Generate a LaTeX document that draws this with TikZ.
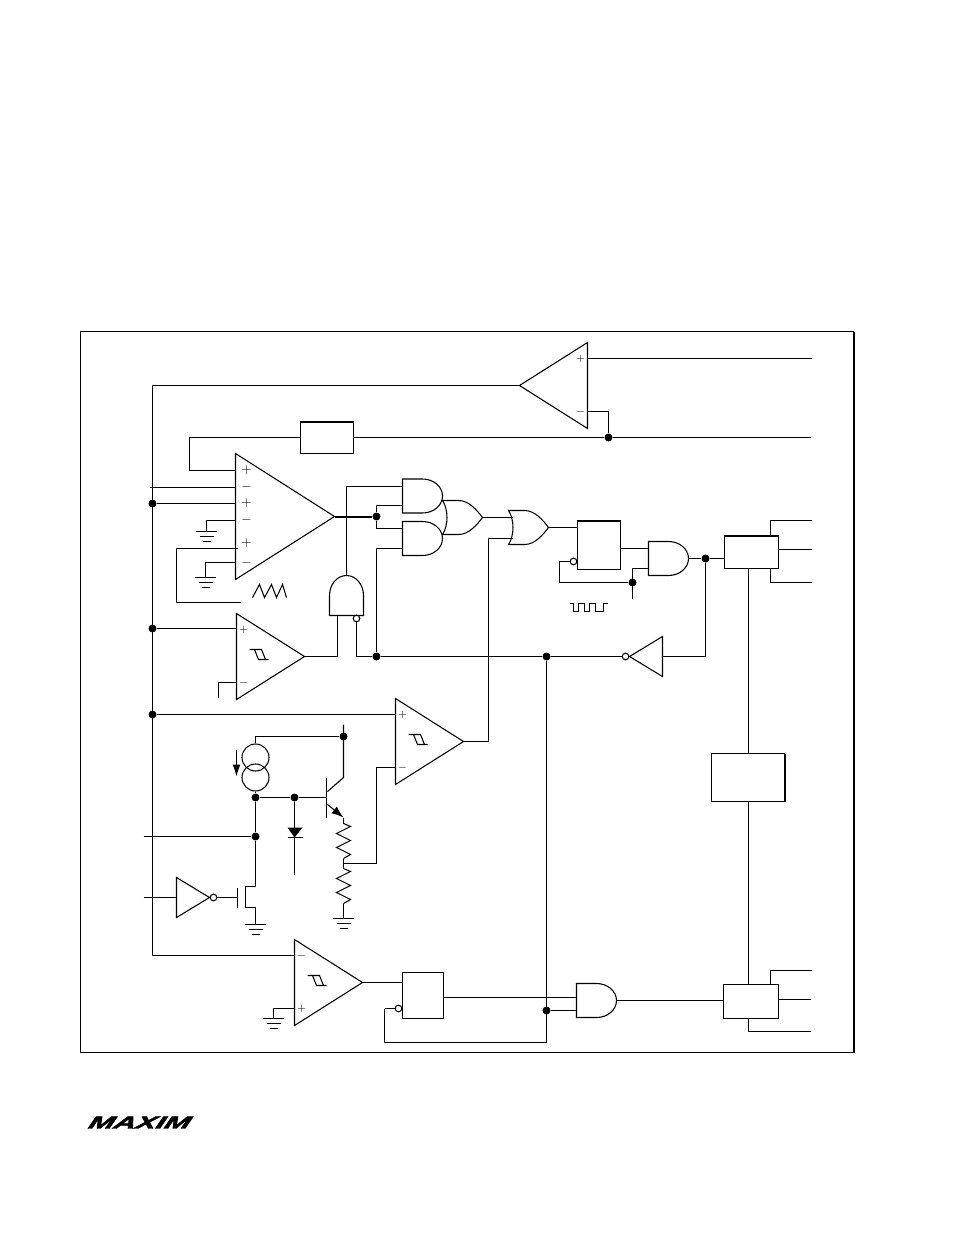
\documentclass[tikz,border=0pt]{standalone}
\usepackage{fontspec}
\setmainfont[BoldItalicFeatures={FakeBold=2.5,FakeSlant=0.2}]{Liberation Sans}
\usetikzlibrary{arrows.meta}

\tikzset{
    block/.style 2 args={rectangle,draw,inner sep=0pt,outer sep=0pt,minimum width=#1*0.75pt,minimum height=#2*0.75pt},
    pics/comparator/.style 2 args={code={
        \draw (0,-43) -- (68,0) -- (0,43) -- cycle;
        \coordinate (-tip) at (68,0);
        \coordinate (-a) at (0,-27);
        \coordinate (-b) at (0,26);
        \node[font=\footnotesize,inner sep=0pt] (-la) at (7,-27) {#1};
        \node[font=\footnotesize,inner sep=0pt] (-lb) at (7,26) {#2};
    }},
    pics/hyst/.style={code={
        \draw (13,-7) -- (25,-7) -- (29,3) -- (32,3) -- (22,3) -- (18,-7);
    }},
    pics/andgate/.style 2 args={code={
        \draw (0,-17) -- (20,-17) .. controls (31,-17) and (40,-9.5) .. (40,0) .. controls (40,9.5) and (31,17) .. (20,17) -- (0,17) -- cycle;
        \coordinate (-tip) at (40,0);
        \coordinate (-a) at (0,#1);
        \coordinate (-b) at (0,#2);
    }},
    pics/orgate/.style={code={
        \draw (0,-17) -- (16,-17) .. controls (26,-17) and (34,-8) .. (40,0) .. controls (34,8) and (26,17) .. (16,17) -- (0,17) .. controls (6,8) and (6,-8) .. (0,-17) -- cycle;
        \coordinate (-tip) at (40,0);
        \coordinate (-a) at (4,-10);
        \coordinate (-b) at (4,11);
    }},
    pics/inverter/.style={code={
        \draw (0,-20) -- (33,0) -- (0,20) -- cycle;
        \coordinate (-base) at (0,0);
        \coordinate (-tip) at (33,0);
    }},
    pics/groundsym/.style={code={
        \coordinate (-top) at (0,0);
        \draw (-10.5,0) -- (10.5,0);
        \draw (-7,5) -- (7,5);
        \draw (-4,10) -- (4,10);
    }},
    pics/resistor/.style={code={
        \coordinate (-top) at (0,0);
        \coordinate (-end) at (0,35);
        \draw (0,0) -- (7,3) -- (-7,10) -- (7,17) -- (-7,24) -- (7,31) -- (0,35);
    }}
}

\begin{document}
\begin{tikzpicture}[x=0.75pt,y=-0.75pt,line width=0.8pt]
\useasboundingbox (-0.5,-0.5) rectangle (953.5,1234.5);
\draw (80,331) rectangle (853,1052);
\draw[line width=1.5pt] (853.5,331) -- (853.5,1052);

\begin{scope}[every node/.style={circle,fill=black,inner sep=0pt,minimum size=6pt}]
    \node (dsense) at (608,437) {};
    \node (drail1) at (152,503) {};
    \node (drail2) at (152,628) {};
    \node (drail3) at (152,714) {};
    \node (dout) at (376,516) {};
    \node (dlow) at (376,656) {};
    \node (dmid) at (546,656) {};
    \node (dbot) at (546,1010) {};
    \node (dclk) at (632,582) {};
    \node (dq) at (705,558) {};
    \node (dvcc) at (343,736) {};
    \node (dbase) at (255,797) {};
    \node (ddiode) at (294,797) {};
    \node (din) at (255,836) {};
\end{scope}

\node[block={53}{32}] (refbox) at (326.5,437) {};
\node[block={43}{49}] (ff) at (598.5,544.5) {};
\node[block={54}{33}] (drv1) at (751,551.5) {};
\node[block={73}{48}] (mid) at (747.5,777) {};
\node[block={55}{34}] (drv2) at (750.5,1001) {};
\node[block={41}{46}] (ff2) at (422.5,995) {};
\draw[line width=1.5pt] (refbox.north west) -- (refbox.north east);
\draw[line width=1.5pt] (ff.north west) -- (ff.north east);
\draw[line width=1.5pt] (drv1.north west) -- (drv1.north east);
\draw[line width=1.5pt] (mid.north east) -- (mid.south east);

\draw (235,453) -- (334,516) -- (235,579) -- cycle;
\coordinate (amptip) at (334,516);
\coordinate (ap1) at (235,470);
\coordinate (ap2) at (235,487);
\coordinate (ap3) at (235,503);
\coordinate (ap4) at (235,520);
\coordinate (ap5) at (237,548);
\coordinate (ap6) at (235,562);
\begin{scope}[every node/.style={inner sep=0pt}]
    \node (lp1) at (246,470) {$+$};
    \node (lm1) at (246,487) {$-$};
    \node (lp2) at (246,503) {$+$};
    \node (lm2) at (246,520) {$-$};
    \node (lp3) at (246,543) {$+$};
    \node (lm3) at (246,563) {$-$};
\end{scope}

\pic (c1) [xscale=-1] at (587,385) {comparator={$+$}{$-$}};
\pic (c2) at (236,656) {comparator={$+$}{$-$}};
\pic (c3) at (395,741) {comparator={$+$}{$-$}};
\pic (c4) at (294,982) {comparator={$-$}{$+$}};
\pic at (236,656) {hyst};
\pic at (395,741) {hyst};
\pic at (294,982) {hyst};

\pic (and1) at (402,495.5) {andgate={-9.5}{9.5}};
\pic (and2) at (402,538) {andgate={-10}{10}};
\pic (and3) at (648,558) {andgate={-10}{10}};
\pic (and4) at (576,1000) {andgate={-3}{10}};
\pic (nand) [rotate=90] at (346,615) {andgate={-9}{10}};
\pic (or1) at (442,517) {orgate};
\pic (or2) at (508,527) {orgate};
\pic (inv1) at (176,897) {inverter};
\pic (inv2) [xscale=-1] at (662,656) {inverter};

\pic (g1) at (206,531) {groundsym};
\pic (g2) at (205,577) {groundsym};
\pic (g3) at (255,924) {groundsym};
\pic (g4) at (343,918) {groundsym};
\pic (g5) at (273,1018) {groundsym};
\pic (r1) at (343,823) {resistor};
\pic (r2) at (343,868) {resistor};

\coordinate (o1) at (811,358);
\coordinate (o2) at (810,437);
\coordinate (o4) at (811,520);
\coordinate (o5) at (811,549);
\coordinate (o6) at (811,582);
\coordinate (o7) at (811,970);
\coordinate (o8) at (810,999);
\coordinate (o9) at (810,1031);
\coordinate (i1) at (149,487);
\coordinate (i2) at (143,836);
\coordinate (i3) at (143,897);
\coordinate (railb) at (152,955);
\coordinate (k1) at (189,470);
\coordinate (k2) at (176,602);
\coordinate (k3) at (240,602);
\coordinate (k5) at (218,697);
\coordinate (k6) at (546,1042);
\coordinate (k7) at (384,1008);
\coordinate (k8) at (770,984);
\coordinate (k9) at (770,535);
\coordinate (k10) at (770,568);
\coordinate (k11) at (559,582);
\coordinate (k12) at (632,598);
\coordinate (k13) at (488,538);
\coordinate (k14) at (376,863);
\coordinate (rj) at (343,863);
\coordinate (bust) at (748,753);
\coordinate (busb) at (748,801);

\draw (c1-a) -- (o1);
\draw (c1-b) -| (dsense);
\draw (c1-tip) -| (railb) -- (c4-a);
\draw (refbox.east) -- (dsense) -- (o2);
\draw (refbox.west) -| (k1) -- (ap1);
\draw (i1) -- (ap2);
\draw (drail1) -- (ap3);
\draw (ap4) -| (g1-top);
\draw (ap5) -| (k2) -- (k3);
\draw (ap6) -| (g2-top);
\draw[line width=1.5pt] (amptip) -- (dout);
\draw (dout) |- (and1-b);
\draw (dout) |- (and2-a);
\draw (and2-b) -| (dlow);
\draw (and1-a) -| (nand-tip);
\draw (c2-tip) -| (nand-a);
\draw (drail2 -| c2-a) -- (drail2);
\draw (c2-b) -| (k5);
\draw (or1-tip) -- (or2-a);
\draw (or2-b) -- (k13) |- (c3-tip);
\draw (or2-tip) -- (or2-tip -| ff.west);
\draw (ff.east |- and3-a) -- (and3-a);
\draw (and3-b) -| (k12);
\draw (and3-tip) -- (dq) -- (dq -| drv1.west);
\draw (dq) |- (inv2-base);
\draw (k9) |- (o4);
\draw (drv1.east |- o5) -- (o5);
\draw (k10) |- (o6);
\draw (bust) -- (bust |- drv1.south);
\draw (busb) -- (busb |- drv2.north);
\draw (k8) |- (o7);
\draw (drv2.east |- o8) -- (o8);
\draw (busb |- drv2.south) |- (o9);
\draw (drail3) -- (c3-a);
\draw (c3-b) -| (k14) -- (rj);
\draw (dlow) -- (dmid);
\draw (dmid) -- (k6) -| (k7);
\draw (dbot) -- (and4-b);
\draw (and4-a) -- (and4-a -| ff2.east);
\draw (and4-tip) -- (and4-tip -| drv2.west);
\draw (c4-tip) -- (c4-tip -| ff2.west);
\draw (c4-b) -| (g5-top);

\coordinate (qb) at (326,797);
\coordinate (qt) at (326,777);
\coordinate (qu) at (326,817);
\coordinate (qc1) at (327,791);
\coordinate (qc2) at (343,777);
\coordinate (qc3) at (343,724);
\coordinate (qe1) at (327,804);
\coordinate (qe2) at (343,817);
\coordinate (mg) at (237,897);
\coordinate (mgt) at (237,887);
\coordinate (mgb) at (237,907);
\coordinate (md) at (245,886);
\coordinate (ms) at (245,907);
\coordinate (dt) at (294,827);
\coordinate (db) at (294,837);
\coordinate (dl) at (287,837);
\coordinate (dr) at (302,837);
\coordinate (de) at (294,874);
\coordinate (ca1) at (236,749);
\coordinate (ca2) at (236,776);

\node[circle,draw,inner sep=0pt,minimum size=20.25pt] (cs1) at (255,757) {};
\node[circle,draw,inner sep=0pt,minimum size=20.25pt] (cs2) at (255,777) {};
\draw (dvcc) -| (cs1.north);
\draw (cs2.south) -- (dbase) -- (ddiode) -- (qb);
\draw (qt) -- (qu);
\draw (qc1) -- (qc2) -- (qc3);
\draw[-{Latex[length=9pt,width=6.5pt]}] (qe1) -- (qe2);
\draw (qe2) -- (r1-top);
\draw (r1-end) -- (rj) -- (r2-top);
\draw (r2-end) -- (g4-top);
\draw[-{Latex[length=9pt,width=6pt]}] (ca1) -- (ca2);
\draw (dbase) -- (din) |- (md) -- (ms) -| (g3-top);
\draw (i2) -- (din);
\draw (i3) -- (inv1-base);
\draw (mgt) -- (mgb);
\draw (ddiode) -- (dt);
\fill (287,827) -- (302,827) -- (db) -- cycle;
\draw (dl) -- (dr);
\draw (db) -- (de);

\draw (252,597) -- (259,584) -- (264,597) -- (271,584) -- (276,597) -- (282,584) -- (286,597);
\draw (569,603) -- (573,603) -- (573,611) -- (578,611) -- (578,603) -- (584,603) -- (584,611) -- (589,611) -- (589,603) -- (595,603) -- (595,611) -- (603,611) -- (603,603) -- (607,603);

\begin{scope}[every node/.style={circle,draw,fill=white,inner sep=0pt,minimum size=5pt}]
    \node (bub1) at (356,618) {};
    \node (bub2) at (573,561) {};
    \node (bub3) at (625,656) {};
    \node (bub4) at (398,1008) {};
    \node (bub5) at (213,897) {};
\end{scope}
\draw (bub1) |- (dlow);
\draw (bub2) -| (k11) -- (dclk);
\draw (k7) -- (bub4);
\draw (bub5) -- (mg);
\draw (bub3) -- (dmid);

\node[inner sep=0pt,font=\bfseries\itshape\fontsize{13pt}{13pt}\selectfont] (logo) at (137.5,1122) {\scalebox{1.75}[1]{MAXIM}};
\end{tikzpicture}
\end{document}
